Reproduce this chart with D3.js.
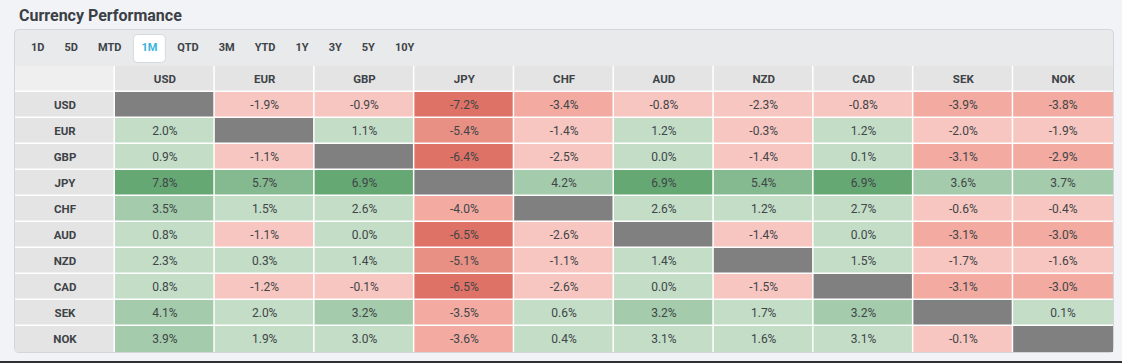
<!DOCTYPE html>
<html lang="en">
<head>
  <meta charset="UTF-8">
  <title>Currency Performance</title>
  <script src="https://d3js.org/d3.v7.min.js"></script>
  <style>
    html, body {
      margin: 0;
      padding: 0;
      background: #f2f3f7;
    }
    body {
      font-family: 'Roboto', 'Liberation Sans', sans-serif;
      width: 1122px;
      height: 363px;
      overflow: hidden;
    }
    svg { display: block; }
  </style>
</head>
<body>
  <div id="chart"></div>
  <script>
    var currencies = ["USD", "EUR", "GBP", "JPY", "CHF", "AUD", "NZD", "CAD", "SEK", "NOK"];
    var periods = ["1D", "5D", "MTD", "1M", "QTD", "3M", "YTD", "1Y", "3Y", "5Y", "10Y"];
    var activePeriod = "1M";

    // one row per base currency, columns in the same order as currencies (null = diagonal)
    var rowUSD = [null, -1.9, -0.9, -7.2, -3.4, -0.8, -2.3, -0.8, -3.9, -3.8];
    var rowEUR = [2.0, null, 1.1, -5.4, -1.4, 1.2, -0.3, 1.2, -2.0, -1.9];
    var rowGBP = [0.9, -1.1, null, -6.4, -2.5, 0.0, -1.4, 0.1, -3.1, -2.9];
    var rowJPY = [7.8, 5.7, 6.9, null, 4.2, 6.9, 5.4, 6.9, 3.6, 3.7];
    var rowCHF = [3.5, 1.5, 2.6, -4.0, null, 2.6, 1.2, 2.7, -0.6, -0.4];
    var rowAUD = [0.8, -1.1, 0.0, -6.5, -2.6, null, -1.4, 0.0, -3.1, -3.0];
    var rowNZD = [2.3, 0.3, 1.4, -5.1, -1.1, 1.4, null, 1.5, -1.7, -1.6];
    var rowCAD = [0.8, -1.2, -0.1, -6.5, -2.6, 0.0, -1.5, null, -3.1, -3.0];
    var rowSEK = [4.1, 2.0, 3.2, -3.5, 0.6, 3.2, 1.7, 3.2, null, 0.1];
    var rowNOK = [3.9, 1.9, 3.0, -3.6, 0.4, 3.1, 1.6, 3.1, -0.1, null];
    var rows = [rowUSD, rowEUR, rowGBP, rowJPY, rowCHF, rowAUD, rowNZD, rowCAD, rowSEK, rowNOK];

    var width = 1122,
        height = 363,
        panel = { left: 15, top: 29, right: 1113, bottom: 352 },
        labelW = 100,
        headerTop = 66,
        headerH = 26;

    var color = d3.scaleThreshold()
      .domain([-6, -4.5, -2.8, 0, 3.15, 5, 6.5])
      .range(["#df7266", "#e89084", "#f2aaa1", "#f8c6c0", "#c3ddc7", "#a4cbab", "#85b98f", "#66a874"]);

    var cells = [];
    rows.forEach(function(r, i) {
      r.forEach(function(v, j) {
        cells.push({ row: currencies[i], col: currencies[j], value: v });
      });
    });

    var svg = d3.select("#chart").append("svg")
      .attr("width", width)
      .attr("height", height);

    svg.append("text")
      .attr("x", 19)
      .attr("y", 21)
      .attr("fill", "#3b4045")
      .attr("font-size", "16px")
      .attr("font-weight", 700)
      .text("Currency Performance");

    svg.append("rect")
      .attr("x", panel.left - 0.5)
      .attr("y", panel.top + 0.5)
      .attr("width", panel.right - panel.left + 1)
      .attr("height", panel.bottom - panel.top)
      .attr("rx", 4)
      .attr("fill", "#e8eaeb")
      .attr("stroke", "#d2d5d9");

    // tabs, laid out one after another
    var tabG = svg.append("g");
    var tx = 21;
    periods.forEach(function(p) {
      var t = tabG.append("text")
        .attr("y", 51)
        .attr("text-anchor", "middle")
        .attr("font-size", "11px")
        .attr("font-weight", 700)
        .attr("fill", p === activePeriod ? "#36b4dd" : "#3d4347")
        .text(p);
      var w = t.node().getComputedTextLength();
      var pad = 10;
      var cx = tx + pad + w / 2;
      t.attr("x", cx);
      if (p === activePeriod) {
        tabG.insert("rect", "text")
          .attr("x", cx - 16)
          .attr("y", 34.5)
          .attr("width", 32)
          .attr("height", 28)
          .attr("rx", 4)
          .attr("fill", "#ffffff")
          .attr("stroke", "#d6d9dc");
      }
      tx += w + pad * 2;
    });

    var x = d3.scaleBand()
      .domain(currencies)
      .range([panel.left + labelW, panel.right]);
    var y = d3.scaleBand()
      .domain(currencies)
      .range([headerTop + headerH, panel.bottom]);

    var gap = 1.5;

    // white grid under the table
    svg.append("rect")
      .attr("x", panel.left)
      .attr("y", headerTop)
      .attr("width", panel.right - panel.left)
      .attr("height", panel.bottom - headerTop)
      .attr("fill", "#ffffff");

    svg.append("rect")
      .attr("x", panel.left)
      .attr("y", headerTop)
      .attr("width", labelW - gap)
      .attr("height", headerH - gap)
      .attr("fill", "#efefef");

    // column header
    var head = svg.append("g").selectAll("g")
      .data(currencies)
      .join("g")
      .attr("transform", function(d) { return "translate(" + x(d) + "," + headerTop + ")"; });
    head.append("rect")
      .attr("width", function(d, i) { return x.bandwidth() - (i === currencies.length - 1 ? 0 : gap); })
      .attr("height", headerH - gap)
      .attr("fill", "#e4e4e4");
    head.append("text")
      .attr("x", x.bandwidth() / 2)
      .attr("y", headerH / 2 + 3.5)
      .attr("text-anchor", "middle")
      .attr("font-size", "11.5px")
      .attr("font-weight", 700)
      .attr("fill", "#3d4347")
      .text(function(d) { return d; });

    // row labels
    var lab = svg.append("g").selectAll("g")
      .data(currencies)
      .join("g")
      .attr("transform", function(d) { return "translate(" + panel.left + "," + y(d) + ")"; });
    lab.append("rect")
      .attr("width", labelW - gap)
      .attr("height", function(d, i) { return y.bandwidth() - (i === currencies.length - 1 ? 0 : gap); })
      .attr("fill", "#e4e4e4");
    lab.append("text")
      .attr("x", labelW / 2)
      .attr("y", y.bandwidth() / 2 + 3.5)
      .attr("text-anchor", "middle")
      .attr("font-size", "11.5px")
      .attr("font-weight", 700)
      .attr("fill", "#3d4347")
      .text(function(d) { return d; });

    // heatmap cells
    var cell = svg.append("g").selectAll("g")
      .data(cells)
      .join("g")
      .attr("transform", function(d) { return "translate(" + x(d.col) + "," + y(d.row) + ")"; });
    cell.append("rect")
      .attr("width", function(d) { return x.bandwidth() - (d.col === "NOK" ? 0 : gap); })
      .attr("height", function(d) { return y.bandwidth() - (d.row === "NOK" ? 0 : gap); })
      .attr("fill", function(d) { return d.value === null ? "#808080" : color(d.value); });
    cell.filter(function(d) { return d.value !== null; })
      .append("text")
      .attr("x", x.bandwidth() / 2)
      .attr("y", y.bandwidth() / 2 + 3.5)
      .attr("text-anchor", "middle")
      .attr("font-size", "12px")
      .attr("fill", "#404548")
      .text(function(d) { return d.value.toFixed(1) + "%"; });

    svg.append("rect")
      .attr("x", 0)
      .attr("y", height - 2)
      .attr("width", width)
      .attr("height", 2)
      .attr("fill", "#2e3033");
  </script>
</body>
</html>
